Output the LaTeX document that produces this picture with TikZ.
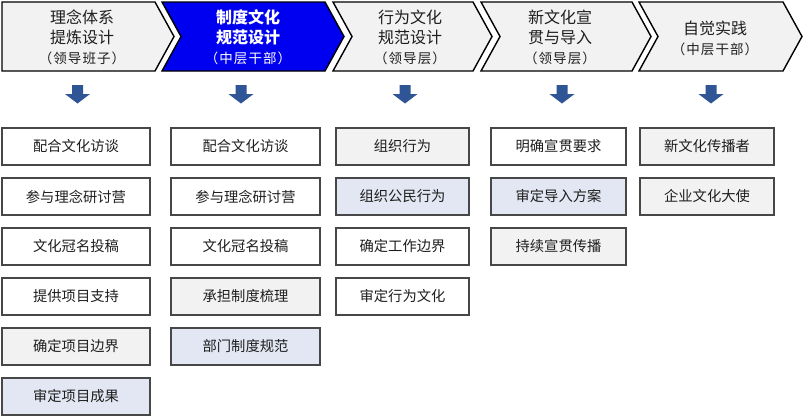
\documentclass[tikz,border=0pt]{standalone}
\usepackage{fontspec}
\setmainfont{Noto Sans CJK SC}
\definecolor{chevgrey}{RGB}{242,242,242}
\definecolor{chevblue}{RGB}{0,0,240}
\definecolor{boxgrey}{RGB}{242,242,242}
\definecolor{boxblue}{RGB}{226,231,243}
\definecolor{arrblue}{RGB}{47,85,151}
\definecolor{txt}{RGB}{30,30,30}
\tikzset{
  chev/.style={draw=black,line width=1.4pt,line join=miter,fill=chevgrey},
  chevb/.style={chev,fill=chevblue},
  htext/.style={align=center,text=txt,font=\fontsize{16}{20}\selectfont,inner sep=0pt},
  htextb/.style={htext,text=white,font=\fontsize{16}{20}\selectfont\bfseries},
  cbox/.style={draw=black!72,line width=1.3pt,minimum height=37pt,inner sep=0pt,text=txt,font=\fontsize{14.3}{16}\selectfont},
  wbox/.style={cbox,fill=white},
  gbox/.style={cbox,fill=boxgrey},
  bbox/.style={cbox,fill=boxblue},
  downarrow/.style={fill=arrblue,draw=none}
}
\newcommand{\subl}[1]{{\fontsize{13.5}{20}\selectfont\mdseries\addfontfeatures{LetterSpace=8} #1}}
\begin{document}
\begin{tikzpicture}[x=1pt,y=-1pt]
\useasboundingbox[fill=white] (0,0) rectangle (806,418);
% chevrons
\draw[chev]  (2,2) -- (155,2) -- (174,36.5) -- (155,71) -- (2,71) -- cycle;
\draw[chevb] (162,2) -- (325,2) -- (344,36.5) -- (325,71) -- (162,71) -- (181,36.5) -- cycle;
\draw[chev]  (333,2) -- (473,2) -- (492,36.5) -- (473,71) -- (333,71) -- (352,36.5) -- cycle;
\draw[chev]  (481,2) -- (632,2) -- (651,36.5) -- (632,71) -- (481,71) -- (500,36.5) -- cycle;
\draw[chev]  (639,2) -- (783,2) -- (802,36.5) -- (783,71) -- (639,71) -- (658,36.5) -- cycle;
% heading texts
\node[htext]  (h1) at (82,37)  {理念体系\\提炼设计\\\subl{（领导班子）}};
\node[htextb] (h2) at (248,37) {制度文化\\规范设计\\\subl{（中层干部）}};
\node[htext]  (h3) at (410,37) {行为文化\\规范设计\\\subl{（领导层）}};
\node[htext]  (h4) at (560,37) {新文化宣\\贯与导入\\\subl{（领导层）}};
\node[htext]  (h5) at (715,38) {自觉实践\\\subl{（中层干部）}};
% arrows
\foreach \cx in {77.5,241,405,562,711}{
  \fill[downarrow] (\cx-5.5,85) -- (\cx+5.5,85) -- (\cx+5.5,94) -- (\cx+12.5,94) -- (\cx,103.5) -- (\cx-12.5,94) -- (\cx-5.5,94) -- cycle;
}
% column 1
\node[wbox,minimum width=148pt] (b11) at (76,146.5) {配合文化访谈};
\node[wbox,minimum width=148pt] (b12) at (76,196.5) {参与理念研讨营};
\node[wbox,minimum width=148pt] (b13) at (76,246.5) {文化冠名投稿};
\node[wbox,minimum width=148pt] (b14) at (76,296.5) {提供项目支持};
\node[gbox,minimum width=148pt] (b15) at (76,346.5) {确定项目边界};
\node[bbox,minimum width=148pt] (b16) at (76,396.5) {审定项目成果};
% column 2
\node[wbox,minimum width=149pt] (b21) at (245.5,146.5) {配合文化访谈};
\node[wbox,minimum width=149pt] (b22) at (245.5,196.5) {参与理念研讨营};
\node[wbox,minimum width=149pt] (b23) at (245.5,246.5) {文化冠名投稿};
\node[gbox,minimum width=149pt] (b24) at (245.5,296.5) {承担制度梳理};
\node[bbox,minimum width=149pt] (b25) at (245.5,346.5) {部门制度规范};
% column 3
\node[gbox,minimum width=133pt] (b31) at (402.5,146.5) {组织行为};
\node[bbox,minimum width=133pt] (b32) at (402.5,196.5) {组织公民行为};
\node[wbox,minimum width=133pt] (b33) at (402.5,246.5) {确定工作边界};
\node[wbox,minimum width=133pt] (b34) at (402.5,296.5) {审定行为文化};
% column 4
\node[wbox,minimum width=135pt] (b41) at (558.5,146.5) {明确宣贯要求};
\node[bbox,minimum width=135pt] (b42) at (558.5,196.5) {审定导入方案};
\node[gbox,minimum width=135pt] (b43) at (558.5,246.5) {持续宣贯传播};
% column 5
\node[gbox,minimum width=134pt] (b51) at (707,146.5) {新文化传播者};
\node[gbox,minimum width=134pt] (b52) at (707,196.5) {企业文化大使};
\end{tikzpicture}
\end{document}
